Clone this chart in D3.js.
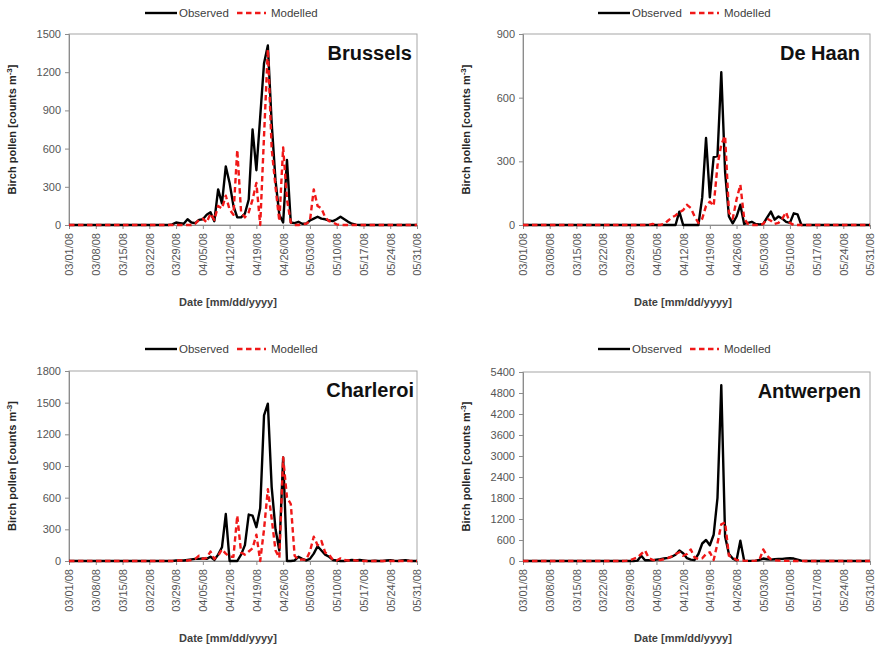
<!DOCTYPE html>
<html><head><meta charset="utf-8">
<script src="https://cdn.jsdelivr.net/npm/d3@7"></script>
<style>
body{margin:0;background:#fff}
svg{display:block}
text{font-family:"Liberation Sans",Arial,sans-serif}
</style>
</head><body>
<svg id="chart" width="877" height="649"></svg>
<script>
// ---------- data ----------
const tickLabels = ["03/01/08","03/08/08","03/15/08","03/22/08","03/29/08","04/05/08","04/12/08",
  "04/19/08","04/26/08","05/03/08","05/10/08","05/17/08","05/24/08","05/31/08"];
const firstDay = "2008-03-01";
const lastDay = "2008-05-31";
const stations = ["Brussels","De Haan","Charleroi","Antwerpen"];
const yMaxes = [1500, 900, 1800, 5400];
const ySteps = [300, 300, 300, 600];
const legendLabels = ["Observed","Modelled"];
const axisTitleX = "Date [mm/dd/yyyy]";

// daily values, 1 March .. 31 May 2008 (92 days)
const brusselsObserved = [
 0,0,0,0,0,0,0,0,0,0, 0,0,0,0,0,0,0,0,0,0, 0,0,0,0,0,0,0,5,20,15,
 10,45,20,15,40,45,80,100,30,280, 170,460,330,150,60,60,90,200,750,430,
 850,1270,1410,800,350,80,20,510,20,15, 25,10,10,35,50,65,50,45,35,30,
 45,65,45,25,10,3,0,0,0,0, 0,0,0,0,0,0,0,0,0,0, 0,0];
const brusselsModelled = [
 0,0,0,0,0,0,0,0,0,0, 0,0,0,0,0,0,0,0,0,0, 0,0,0,0,0,0,0,0,0,0,
 0,0,0,10,40,50,20,90,40,150, 130,230,120,80,590,100,60,100,200,330,
 0,700,1380,600,300,30,610,200,20,0, 0,5,10,30,280,150,130,60,30,20,
 5,0,0,0,0,0,0,0,0,0, 0,0,0,0,0,0,0,0,0,0, 0,0];
const deHaanObserved = [
 0,0,0,0,0,0,0,0,0,0, 0,0,0,0,0,0,0,0,0,0, 0,0,0,0,0,0,0,0,0,0,
 0,0,0,0,0,0,0,0,0,0, 0,63,0,0,0,0,0,130,410,130,
 320,325,720,250,40,8,40,95,5,10, 15,5,3,5,35,63,25,40,30,15,
 10,55,50,0,0,0,0,0,0,0, 0,0,0,0,0,0,0,0,0,0, 0,0];
const deHaanModelled = [
 0,0,0,0,0,0,0,0,0,0, 0,0,0,0,0,0,0,0,0,0, 0,0,0,0,0,0,0,0,0,0,
 0,0,0,0,5,0,0,5,20,35, 45,60,70,95,80,40,10,30,90,110,
 90,280,380,420,60,30,120,190,30,5, 0,0,0,5,30,20,5,10,30,60,
 10,0,0,0,0,0,0,0,0,0, 0,0,0,0,0,0,0,0,0,0, 0,0];
const charleroiObserved = [
 0,0,0,0,0,0,0,0,0,0, 0,0,0,0,0,0,0,0,0,0, 0,0,0,0,0,0,0,0,5,5,
 5,10,15,20,20,25,20,40,10,60, 130,445,0,0,0,60,150,440,430,320,
 500,1380,1490,700,300,100,980,0,0,5, 40,20,5,20,70,140,100,60,40,10,
 5,0,0,5,10,5,10,5,0,0, 3,0,0,5,8,3,0,5,8,3, 0,0];
const charleroiModelled = [
 0,0,0,0,0,0,0,0,0,0, 0,0,0,0,0,0,0,0,0,0, 0,0,0,0,0,0,0,0,5,5,
 5,5,10,20,50,20,30,90,20,50, 110,70,40,40,430,80,60,90,120,250,
 0,300,680,400,100,30,980,600,540,50, 10,15,10,90,230,150,190,80,60,10,
 5,25,10,5,10,5,3,0,0,0, 0,0,0,0,0,0,0,0,0,0, 0,0];
const antwerpenObserved = [
 0,0,0,0,0,0,0,0,0,0, 0,0,0,0,0,0,0,0,0,0, 0,0,0,0,0,0,0,0,0,0,
 10,150,20,20,20,40,50,70,90,120, 180,300,220,80,40,30,200,500,600,450,
 750,1800,5020,700,200,70,20,580,10,5, 5,10,30,70,50,40,50,60,60,70,
 80,70,40,10,0,0,0,0,0,0, 0,0,0,0,0,0,0,0,0,0, 0,0];
const antwerpenModelled = [
 0,0,0,0,0,0,0,0,0,0, 0,0,0,0,0,0,0,0,0,0, 0,0,0,0,0,0,0,5,20,60,
 100,200,300,80,30,20,30,50,80,130, 200,250,150,200,330,100,60,80,200,250,
 30,500,1050,1100,150,100,30,20,10,5, 5,10,30,330,150,50,20,10,10,5,
 5,0,0,0,0,0,0,0,0,0, 0,0,0,0,0,0,0,0,0,0, 0,0];

const observedSeries = [brusselsObserved, deHaanObserved, charleroiObserved, antwerpenObserved];
const modelledSeries = [brusselsModelled, deHaanModelled, charleroiModelled, antwerpenModelled];

// ---------- layout ----------
const layout = [
  {left:69,  right:417, top:34,  bottom:225, legendY:13,  legendX:145, titleX:228, titleY:306, nameInset:5},
  {left:523, right:870, top:34,  bottom:225, legendY:13,  legendX:598, titleX:683, titleY:306, nameInset:10},
  {left:69,  right:417, top:371, bottom:561, legendY:349, legendX:145, titleX:228, titleY:642, nameInset:3},
  {left:523, right:870, top:372, bottom:561, legendY:349, legendX:598, titleX:683, titleY:642, nameInset:9}
];

const parse = d3.timeParse("%Y-%m-%d");
const days = d3.timeDay.range(parse(firstDay), d3.timeDay.offset(parse(lastDay), 1));
const tickDates = tickLabels.map(d3.timeParse("%m/%d/%y"));

const svg = d3.select("#chart");
const RED = "#f01818";
const GRID = "#8c8c8c";
const TICKTXT = "#555";

stations.forEach((name, p) => {
  const L = layout[p];
  const g = svg.append("g");
  const x = d3.scaleTime().domain([days[0], days[days.length - 1]]).range([L.left, L.right]);
  const y = d3.scaleLinear().domain([0, yMaxes[p]]).range([L.bottom, L.top]);

  // frame
  g.append("rect").attr("x", L.left).attr("y", L.top)
    .attr("width", L.right - L.left).attr("height", L.bottom - L.top)
    .attr("fill", "none").attr("stroke", "#a6a6a6").attr("stroke-width", 1);

  // y axis
  const yTicks = d3.range(0, yMaxes[p] + 1, ySteps[p]);
  const ya = g.append("g").attr("transform", `translate(${L.left},0)`)
    .call(d3.axisLeft(y).tickValues(yTicks).tickSize(4).tickPadding(4).tickFormat(d3.format("d")));
  ya.select(".domain").attr("stroke", GRID);
  ya.selectAll(".tick line").attr("stroke", GRID);
  ya.selectAll(".tick text").attr("fill", TICKTXT).attr("font-size", "11px")
    .style("font-family", '"Liberation Sans",Arial,sans-serif');

  // x axis
  const xa = g.append("g").attr("transform", `translate(0,${L.bottom})`)
    .call(d3.axisBottom(x).tickValues(tickDates).tickSize(4).tickFormat((d, i) => tickLabels[i]));
  xa.select(".domain").attr("stroke", GRID);
  xa.selectAll(".tick line").attr("stroke", GRID);
  xa.selectAll(".tick text").attr("fill", TICKTXT).attr("font-size", "11px")
    .style("font-family", '"Liberation Sans",Arial,sans-serif')
    .attr("transform", "rotate(-90)").attr("x", -8).attr("y", 0).attr("dy", "0.35em")
    .attr("text-anchor", "end");

  // lines
  const line = d3.line().x((d, i) => x(days[i])).y(d => y(d)).curve(d3.curveLinear);
  g.append("path").datum(observedSeries[p]).attr("d", line)
    .attr("fill", "none").attr("stroke", "#000").attr("stroke-width", 2.4)
    .attr("stroke-linejoin", "round");
  g.append("path").datum(modelledSeries[p]).attr("d", line)
    .attr("fill", "none").attr("stroke", RED).attr("stroke-width", 2.4)
    .attr("stroke-dasharray", "5.5,3.5").attr("stroke-linejoin", "round");

  // station name
  g.append("text").attr("x", L.right - L.nameInset).attr("y", L.top + 26)
    .attr("text-anchor", "end").attr("font-size", "20px").attr("font-weight", "bold")
    .attr("fill", "#111").text(name);

  // y title
  const yt = g.append("text")
    .attr("transform", `translate(${L.left - 53},${(L.top + L.bottom) / 2}) rotate(-90)`)
    .attr("text-anchor", "middle").attr("font-size", "11px").attr("font-weight", "bold")
    .attr("fill", "#262626");
  yt.append("tspan").text("Birch pollen [counts m");
  yt.append("tspan").attr("dy", -4).attr("font-size", "8px").text("-3");
  yt.append("tspan").attr("dy", 4).text("]");

  // x title
  g.append("text").attr("x", L.titleX).attr("y", L.titleY).attr("text-anchor", "middle")
    .attr("font-size", "11px").attr("font-weight", "bold").attr("fill", "#404040")
    .text(axisTitleX);

  // legend
  const lg = g.append("g").attr("transform", `translate(${L.legendX},${L.legendY})`);
  lg.append("line").attr("x1", 0).attr("x2", 32).attr("y1", 0).attr("y2", 0)
    .attr("stroke", "#000").attr("stroke-width", 2.4);
  lg.append("text").attr("x", 34).attr("y", 4).attr("font-size", "11.5px").attr("fill", "#404040")
    .text(legendLabels[0]);
  lg.append("line").attr("x1", 92).attr("x2", 121).attr("y1", 0).attr("y2", 0)
    .attr("stroke", RED).attr("stroke-width", 2.4).attr("stroke-dasharray", "5.5,3.5");
  lg.append("text").attr("x", 126).attr("y", 4).attr("font-size", "11.5px").attr("fill", "#404040")
    .text(legendLabels[1]);
});
</script>
</body></html>
